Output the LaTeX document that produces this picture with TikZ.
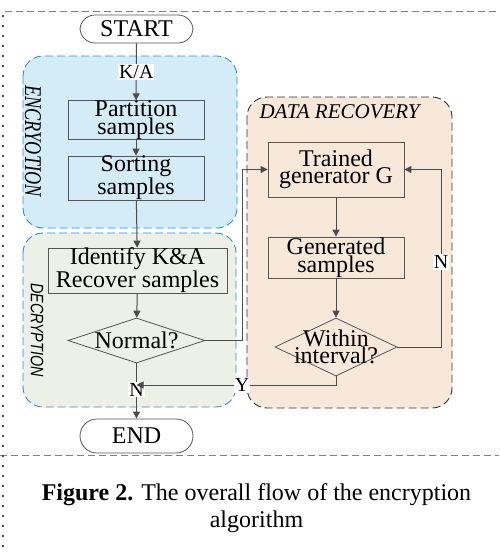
\documentclass[tikz,border=0pt]{standalone}
\usepackage{fontspec}
\setmainfont{Liberation Serif}
\newfontfamily\labsans{Liberation Sans}
\usetikzlibrary{shapes.geometric,arrows.meta}
\definecolor{encfill}{RGB}{212,236,248}
\definecolor{decfill}{RGB}{237,240,230}
\definecolor{recfill}{RGB}{248,232,218}
\definecolor{regblue}{RGB}{52,140,210}
\definecolor{boxgray}{RGB}{85,85,85}
\definecolor{arrgray}{RGB}{75,75,75}
\tikzset{
  region/.style={rounded corners=20pt, dashed, dash pattern=on 8pt off 4pt, line width=0.9pt},
  procbox/.style={draw=boxgray, line width=0.8pt, rectangle, inner sep=0pt, align=center,
     font=\fontsize{24}{17.5}\selectfont},
  decbox/.style={draw=boxgray, line width=0.8pt, diamond, inner sep=0pt},
  dectext/.style={align=center, font=\fontsize{24}{17.5}\selectfont},
  termbox/.style={draw=boxgray, line width=0.8pt, rectangle, rounded corners=15pt, inner sep=0pt,
     font=\fontsize{24}{24}\selectfont},
  arr/.style={draw=arrgray, line width=1pt, -{Triangle[width=7pt,length=7pt]}},
  tag/.style={fill=white, inner sep=1pt, font=\fontsize{20}{20}\selectfont},
}
\begin{document}
\begin{tikzpicture}[x=1pt,y=-1pt]
\useasboundingbox (0,0) rectangle (499,552);
% frame lines
\draw[gray, dashed, dash pattern=on 7pt off 4pt, line width=0.8pt] (5,11) -- (499,11);
\draw[gray, dashed, dash pattern=on 7pt off 4pt, line width=0.8pt] (0,455) -- (499,455);
\draw[black!70, line width=2pt, dash pattern=on 2pt off 8pt] (3,15) -- (3,552);
% regions
\draw[region, draw=regblue, fill=encfill] (23,56) rectangle (237,228);
\draw[region, draw=regblue, fill=decfill] (23,233) rectangle (236,407);
\draw[region, draw=black!80, fill=recfill] (247,97) rectangle (452,408);
\node[rotate=-90, font=\fontsize{24}{24}\selectfont\itshape] (enclab) at (33,141) {\scalebox{0.76}[1]{ENCRYOTION}};
\node[rotate=-90, font=\fontsize{18}{18}\selectfont\labsans\itshape] (declab) at (37,330) {\scalebox{0.8}[1]{DECRYPTION}};
\node[anchor=west, font=\fontsize{21}{21}\selectfont\itshape] (reclab) at (256,112) {DATA RECOVERY};
% nodes
\node[termbox, minimum width=113pt, minimum height=28pt] (start) at (136.5,29) {START};
\node[procbox, minimum width=136pt, minimum height=38pt] (part) at (136,120) {Partition\\samples};
\node[procbox, minimum width=136pt, minimum height=40pt] (sort) at (136,178) {Sorting\\samples};
\node[procbox, minimum width=179pt, minimum height=41pt] (ident) at (137.5,270.5) {Identify K\&A\\Recover samples};
\node[decbox, minimum width=137pt, minimum height=45pt,
      label={[dectext]center:Normal?}] (normal) at (136.5,340.5) {};
\node[termbox, minimum width=113pt, minimum height=34pt, rounded corners=17pt] (end) at (136.5,436) {END};
\node[procbox, minimum width=136pt, minimum height=55pt] (train) at (336,169.5) {Trained\\generator G};
\node[procbox, minimum width=136pt, minimum height=41pt] (gen) at (336,257.5) {Generated\\samples};
\node[decbox, minimum width=122pt, minimum height=58pt,
      label={[dectext]center:Within\\interval?}] (within) at (336,347) {};
\coordinate (join) at (136.5,385);
% connectors
\draw[arr] (start) -- (part) node[tag, pos=0.5] (ka) {K/A};
\draw[arr] (part) -- (sort);
\draw[arr] (sort) -- (ident);
\draw[arr] (ident) -- (normal);
\draw[arr] (normal) -- (end) node[tag, pos=0.48] (nlab) {N};
\draw[arr] (normal.east) -- ++(37,0) |- (train.west);
\draw[arr] (train) -- (gen);
\draw[arr] (gen) -- (within);
\draw[arr] (within.east) -- ++(44,0) |- (train.east);
\node[tag] (nlab2) at (441,262) {N};
\draw[arr] (within.south) |- (join);
\node[tag] (ylab) at (242,385) {Y};
% caption
\node[align=center, font=\fontsize{24}{27}\selectfont] (cap) at (256.5,508) {\textbf{Figure 2.} The overall flow of the encryption\\algorithm};
\end{tikzpicture}
\end{document}
